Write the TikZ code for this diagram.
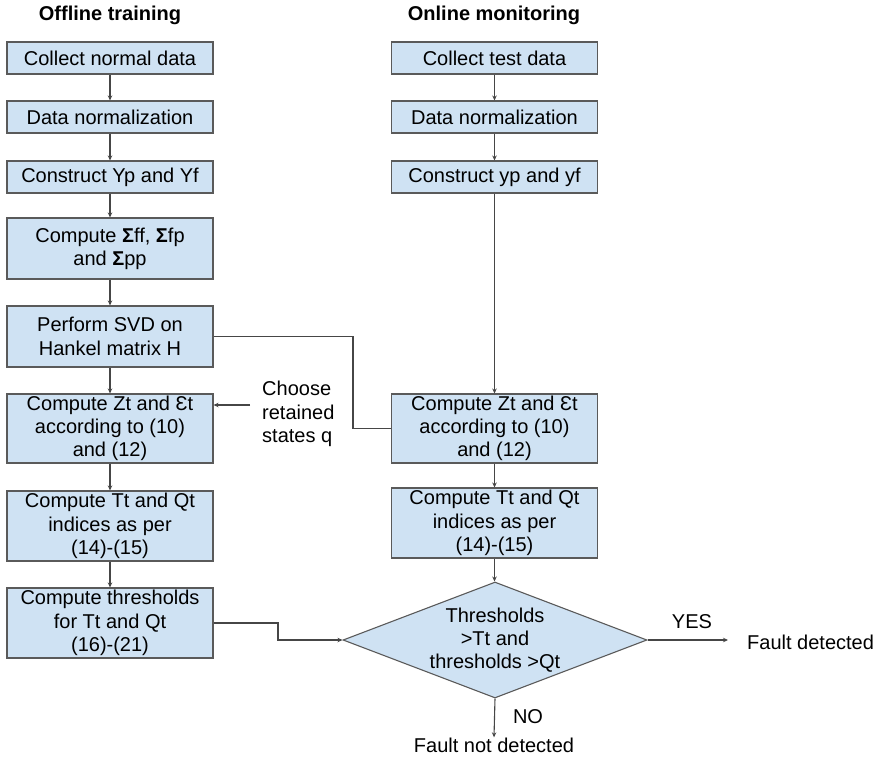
\documentclass[tikz,border=0pt]{standalone}
\usepackage{fontspec}
\setmainfont{Liberation Sans}
\usetikzlibrary{arrows.meta,shapes.geometric}
\definecolor{boxfill}{RGB}{207,226,243}
\definecolor{boxline}{RGB}{90,90,90}
\definecolor{conn}{RGB}{70,70,70}
\tikzset{
  txt/.style={font=\fontsize{20}{23.3}\selectfont, inner sep=0pt, align=center},
  ttl/.style={font=\fontsize{20}{23.3}\selectfont\bfseries, inner sep=0pt},
  stepbox/.style={txt, draw=boxline, fill=boxfill, line width=1.1pt, minimum width=206pt, rectangle},
  decide/.style={txt, draw=boxline, fill=boxfill, line width=1.1pt, shape=diamond, aspect=2.62, minimum width=304pt, minimum height=116pt},
  conline/.style={draw=conn, line width=1.1pt},
  arr/.style={conline, -{Stealth[length=5pt,width=4.5pt]}},
}
\begin{document}
\begin{tikzpicture}[x=1pt,y=-1pt]
\useasboundingbox (0,0) rectangle (879,758);
% titles
\node[ttl] (t1) at (110,15) {Offline training};
\node[ttl] (t2) at (494,15) {Online monitoring};
% left column
\node[stepbox, minimum height=32pt] (b1) at (110,58) {Collect normal data};
\node[stepbox, minimum height=32pt] (b2) at (110,117) {Data normalization};
\node[stepbox, minimum height=32pt] (b3) at (110,177) {Construct Yp and Yf};
\node[stepbox, minimum height=61pt] (b4) at (110,248.5) {Compute \textbf{Σ}ff, \textbf{Σ}fp\\and \textbf{Σ}pp};
\node[stepbox, minimum height=61pt] (b5) at (110,336.5) {Perform SVD on\\Hankel matrix H};
\node[stepbox, minimum height=69pt] (b6) at (110,428.5) {Compute Zt and Ɛt\\according to (10)\\and (12)};
\node[stepbox, minimum height=70pt] (b7) at (110,526) {Compute Tt and Qt\\indices as per\\(14)-(15)};
\node[stepbox, minimum height=70pt] (b8) at (110,623) {Compute thresholds\\for Tt and Qt\\(16)-(21)};
% right column
\node[stepbox, minimum height=32pt] (r1) at (494.5,58) {Collect test data};
\node[stepbox, minimum height=32pt] (r2) at (494.5,117) {Data normalization};
\node[stepbox, minimum height=32pt] (r3) at (494.5,177) {Construct yp and yf};
\node[stepbox, minimum height=69pt] (r4) at (494.5,428.5) {Compute Zt and Ɛt\\according to (10)\\and (12)};
\node[stepbox, minimum height=70pt] (r5) at (494.5,523) {Compute Tt and Qt\\indices as per\\(14)-(15)};
% decision
\node[decide] (d) at (495,640) {Thresholds\\>Tt and\\thresholds >Qt};
% side texts
\node[txt, align=left, anchor=west] (ch) at (262,414) {Choose\\retained\\states q};
\node[txt] (yes) at (692,622) {YES};
\node[txt, anchor=west] (fd) at (747,642) {Fault detected};
\node[txt] (no) at (528,717) {NO};
\node[txt, anchor=base] (fnd) at (494,752) {Fault not detected};
% helper coordinates
\coordinate (k1) at (278,0);
\coordinate (k2) at (353,0);
\coordinate (c1) at (250,405);
\coordinate (c2) at (728,0);
% left connectors
\draw[arr] (b1) -- (b2);
\draw[arr] (b2) -- (b3);
\draw[arr] (b3) -- (b4);
\draw[arr] (b4) -- (b5);
\draw[arr] (b5) -- (b6);
\draw[arr] (b6) -- (b7);
\draw[arr] (b7) -- (b8);
% right connectors
\draw[arr] (r1) -- (r2);
\draw[arr] (r2) -- (r3);
\draw[arr] (r3) -- (r4);
\draw[arr] (r4) -- (r5);
\draw[arr] (r5.south) -- (r5.south |- d.north);
% cross connectors
\draw[conline] (b5.east) -- (k2 |- b5.east) -- (k2 |- r4.west) -- (r4.west);
\draw[arr] (c1) -- (b6.east |- c1);
\draw[arr] (b8.east) -- (k1 |- b8.east) -- (k1 |- d.west) -- (d.west);
\draw[arr] (d.east) -- (c2 |- d.east);
\draw[arr] (d.south) -- (fnd.north);
\end{tikzpicture}
\end{document}
